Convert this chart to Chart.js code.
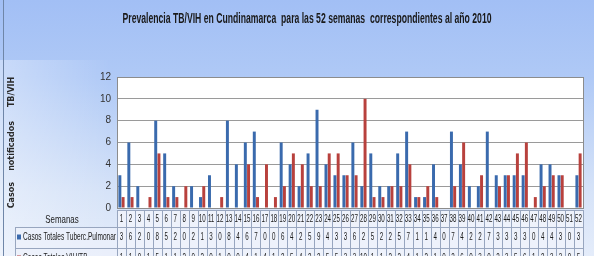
<!DOCTYPE html>
<html>
<head>
<meta charset="utf-8">
<script src="https://cdn.jsdelivr.net/npm/chart.js@4.4.1/dist/chart.umd.min.js"></script>
<style>
  html, body { margin: 0; padding: 0; background: #fff; }
  canvas { display: block; }
</style>
</head>
<body>
<canvas id="chart" width="594" height="256"></canvas>
<script>
// semanas epidemiologicas 1..52
const semanas = ['1','2','3','4','5','6','7','8','9','10','11','12','13','14','15','16','17','18','19','20','21','22','23','24','25','26','27','28','29','30','31','32','33','34','35','36','37','38','39','40','41','42','43','44','45','46','47','48','49','50','51','52'];

const tbPulmonar = [3,6,2,0,8,5,2,0,2,1,3,0,8,4,6,7,0,0,6,4,2,5,9,4,3,3,6,2,5,2,2,5,7,1,1,4,0,7,4,2,2,7,3,3,3,3,0,4,4,3,0,3];
const vihTb = [1,1,0,1,5,1,1,2,0,2,0,1,0,0,4,1,4,1,2,5,4,2,2,5,5,3,3,10,1,1,2,2,4,1,2,1,0,2,6,0,3,0,2,3,5,6,1,2,3,3,0,5];

const serieNames = ['Casos Totales Tuberc.Pulmonar', 'Casos Totales VIH/TB'];
const yTicks = [0, 2, 4, 6, 8, 10, 12];
const titulo = 'Prevalencia TB/VIH en Cundinamarca  para las 52 semanas  correspondientes al año 2010';

const colorBlue = '#3a6aad';
const colorRed = '#b8413d';

const sans = '"Liberation Sans", Arial, sans-serif';

// texto comprimido en horizontal (la fuente original es estrecha)
function drawNarrow(ctx, text, x, y, sx, maxW) {
  ctx.save();
  ctx.translate(x, y);
  let s = sx;
  if (maxW) {
    const w = ctx.measureText(text).width;
    s = Math.min(sx, maxW / w);
  }
  ctx.scale(s, 1);
  ctx.fillText(text, 0, 0);
  ctx.restore();
}

// fondo degradado + area de trazado blanca
const backgroundPlugin = {
  id: 'backgroundPlugin',
  beforeDraw(chart) {
    const { ctx, width, height, chartArea } = chart;
    ctx.save();
    const g = ctx.createLinearGradient(0, 0, 0, height);
    g.addColorStop(0, '#a2bff5');
    g.addColorStop(0.3, '#afc9f6');
    g.addColorStop(0.75, '#d6e3f8');
    g.addColorStop(1, '#e4ecfa');
    ctx.fillStyle = g;
    ctx.fillRect(0, 0, width, height);
    const g2 = ctx.createLinearGradient(0, 0, 110, 0);
    g2.addColorStop(0, 'rgba(255,255,255,0.35)');
    g2.addColorStop(1, 'rgba(255,255,255,0)');
    ctx.fillStyle = g2;
    ctx.fillRect(0, 60, 110, height - 60);
    ctx.strokeStyle = '#6f86a8';
    ctx.lineWidth = 1;
    ctx.beginPath();
    ctx.moveTo(3.5, 0);
    ctx.lineTo(3.5, height);
    ctx.stroke();
    ctx.fillStyle = '#ffffff';
    ctx.fillRect(chartArea.left, chartArea.top, chartArea.right - chartArea.left, chartArea.bottom - chartArea.top);

    // titulo
    ctx.fillStyle = '#1a1a1a';
    ctx.font = 'bold 14px ' + sans;
    ctx.textAlign = 'center';
    ctx.textBaseline = 'middle';
    const tw = ctx.measureText(titulo).width;
    drawNarrow(ctx, titulo, 307, 19, 369 / tw);
    ctx.restore();
  },
  afterDatasetsDraw(chart) {
    const { ctx, chartArea } = chart;
    ctx.save();
    ctx.strokeStyle = '#8c8c8c';
    ctx.lineWidth = 1;
    ctx.strokeRect(Math.round(chartArea.left) + 0.5, Math.round(chartArea.top) + 0.5,
      Math.round(chartArea.right - chartArea.left), Math.round(chartArea.bottom - chartArea.top));
    ctx.restore();
  }
};

// tabla de datos debajo del grafico
const dataTablePlugin = {
  id: 'dataTablePlugin',
  afterDraw(chart) {
    const { ctx, chartArea } = chart;
    const x = chart.scales.x;
    const n = semanas.length;
    const cw = (chartArea.right - chartArea.left) / n;
    const rows = [210, 227, 248, 269];
    const legendLeft = 15;
    const line = '#98a6bf';
    ctx.save();

    // fondos
    ctx.fillStyle = '#eef2fb';
    ctx.fillRect(chartArea.left, rows[0], chartArea.right - chartArea.left, rows[3] - rows[0]);
    ctx.fillStyle = 'rgba(238,242,251,0.6)';
    ctx.fillRect(legendLeft, rows[1], chartArea.left - legendLeft, rows[3] - rows[1]);

    // lineas
    ctx.strokeStyle = line;
    ctx.lineWidth = 1;
    ctx.beginPath();
    for (let r = 0; r < rows.length; r++) {
      const left = r === 0 ? chartArea.left : legendLeft;
      ctx.moveTo(left, rows[r] + 0.5);
      ctx.lineTo(chartArea.right, rows[r] + 0.5);
    }
    for (let i = 0; i <= n; i++) {
      const xx = Math.round(chartArea.left + i * cw) + 0.5;
      ctx.moveTo(xx, rows[0]);
      ctx.lineTo(xx, rows[3]);
    }
    ctx.moveTo(legendLeft + 0.5, rows[1]);
    ctx.lineTo(legendLeft + 0.5, rows[3]);
    ctx.stroke();

    // textos
    ctx.fillStyle = '#1a1a1a';
    ctx.textAlign = 'center';
    ctx.textBaseline = 'middle';
    ctx.font = '10px ' + sans;
    semanas.forEach((s, i) => {
      const cx = x.getPixelForValue(i);
      drawNarrow(ctx, s, cx, (rows[0] + rows[1]) / 2 + 1, 0.62, cw - 1);
      drawNarrow(ctx, String(tbPulmonar[i]), cx, (rows[1] + rows[2]) / 2, 0.62, cw - 1);
      drawNarrow(ctx, String(vihTb[i]), cx, (rows[2] + rows[3]) / 2, 0.62, cw - 1);
    });

    ctx.font = '11px ' + sans;
    drawNarrow(ctx, 'Semanas', 62, (rows[0] + rows[1]) / 2 + 1, 0.72);

    ctx.textAlign = 'left';
    ctx.font = '10px ' + sans;
    [colorBlue, colorRed].forEach((c, k) => {
      const cy = (rows[k + 1] + rows[k + 2]) / 2;
      ctx.fillStyle = c;
      ctx.fillRect(legendLeft + 2, cy - 3, 4, 5);
      ctx.fillStyle = '#1a1a1a';
      drawNarrow(ctx, serieNames[k], legendLeft + 8, cy, 0.66, 93);
    });
    ctx.restore();
  }
};

const ctx = document.getElementById('chart').getContext('2d');
const chart = new Chart(ctx, {
  type: 'bar',
  data: {
    labels: semanas,
    datasets: [
      { label: serieNames[0], data: tbPulmonar, backgroundColor: colorBlue, borderWidth: 0 },
      { label: serieNames[1], data: vihTb, backgroundColor: colorRed, borderWidth: 0 },
    ],
  },
  options: {
    responsive: false,
    animation: false,
    devicePixelRatio: 1,
    categoryPercentage: 0.72,
    barPercentage: 0.92,
    layout: {
      padding: { left: 7, right: 11, top: 77, bottom: 48 },
    },
    plugins: {
      legend: { display: false },
      tooltip: { enabled: false },
      title: { display: false },
    },
    scales: {
      x: {
        display: false,
        offset: true,
      },
      y: {
        min: 0,
        max: 12,
        afterBuildTicks(scale) {
          scale.ticks = yTicks.map(v => ({ value: v }));
        },
        afterFit(scale) {
          scale.width = 110;
        },
        ticks: {
          color: '#333333',
          padding: 6,
          font: { family: sans, size: 10 },
        },
        grid: {
          color: '#9a9a9a',
          lineWidth: 1,
          drawTicks: false,
        },
        border: { display: false },
        title: {
          display: true,
          text: 'Casos    notificados     TB/VIH',
          color: '#2a2a2a',
          font: { family: '"DejaVu Sans", sans-serif', size: 8, weight: 'bold' },
          padding: { top: 0, bottom: 0 },
        },
      },
    },
  },
  plugins: [backgroundPlugin, dataTablePlugin],
});
</script>
</body>
</html>
